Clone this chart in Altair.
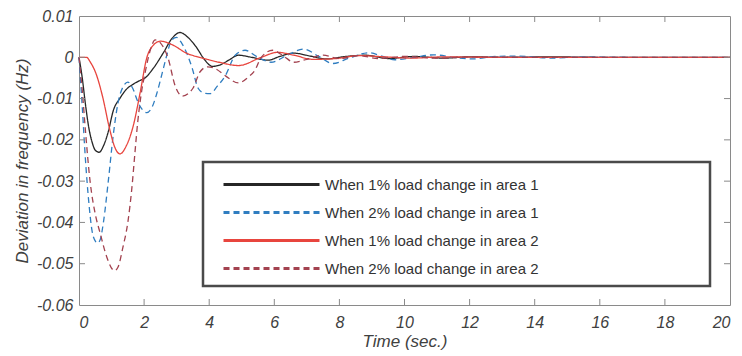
import altair as alt
import pandas as pd

SERIES = [
    "When 1% load change in area 1",
    "When 2% load change in area 1",
    "When 1% load change in area 2",
    "When 2% load change in area 2",
]
COLORS = ["#262626", "#2f7dc0", "#e8453e", "#a3424f"]
DASHES = [[1, 0], [6, 4], [1, 0], [6, 4]]

T_BLACK = [0, 0.1, 0.2, 0.3, 0.4, 0.5, 0.62, 0.75, 0.9, 1.05, 1.26, 1.45, 1.67, 1.85, 2.03, 2.28, 2.6,
           2.85, 3.1, 3.35, 3.6, 3.85, 4.1, 4.35, 4.6, 4.9, 5.3, 5.8, 6.2, 6.6, 7.1, 7.6, 8.2, 8.8,
           9.5, 10.3, 11.2, 12.0, 13.0, 14.5, 16, 18, 20]
Y_BLACK = [0, -0.005, -0.0115, -0.017, -0.0205, -0.0225, -0.023, -0.0215, -0.018, -0.013, -0.0099,
           -0.0078, -0.0065, -0.0057, -0.005, -0.0027, 0.0012, 0.0045, 0.006, 0.0048, 0.0025,
           -0.0005, -0.0022, -0.0018, -0.0007, 0.0005, 0.0, -0.0007, 0.0003, 0.001, 0.0003,
           -0.0004, 0.0002, 0.0005, -0.0003, 0.0002, -0.0002, 0.0001, 0.0, 0.0001, 0, 0, 0]

T_BLUE = [0, 0.1, 0.2, 0.3, 0.4, 0.5, 0.57, 0.65, 0.75, 0.9, 1.05, 1.2, 1.35, 1.5, 1.65, 1.82, 2.08,
          2.25, 2.4, 2.55, 2.68, 2.85, 3.0, 3.15, 3.3, 3.48, 3.66, 3.85, 4.03, 4.25, 4.5, 4.8, 5.1,
          5.5, 5.9, 6.4, 6.9, 7.35, 7.8, 8.3, 8.9, 9.3, 9.7, 10.3, 10.9, 11.5, 12.1, 12.8, 13.5,
          14.5, 15.5, 17, 20]
Y_BLUE = [0, -0.012, -0.025, -0.035, -0.042, -0.0445, -0.045, -0.0442, -0.040, -0.030, -0.019,
          -0.011, -0.0072, -0.006, -0.0075, -0.011, -0.0134, -0.012, -0.0085, -0.004, 0.0,
          0.0042, 0.0048, 0.0035, 0.0012, -0.0027, -0.0075, -0.0087, -0.0088, -0.007, -0.0044,
          0.0005, 0.0017, 0.0, -0.0012, 0.0005, 0.002, 0.0003, -0.0015, -0.0002, 0.0011, 0.0003,
          -0.0006, 0.0, 0.0006, 0.0, -0.0004, 0.0002, 0.0003, -0.0002, 0.0001, 0, 0]

T_RED = [0, 0.23, 0.35, 0.52, 0.73, 0.93, 1.1, 1.26, 1.45, 1.67, 1.88, 2.08, 2.28, 2.5, 2.9, 3.3,
         3.7, 4.3, 4.9, 5.6, 6.1, 6.6, 7.2, 7.9, 8.6, 9.4, 10.2, 11.2, 12.5, 14, 16, 20]
Y_RED = [0, 0, -0.0012, -0.0039, -0.0097, -0.017, -0.0218, -0.0234, -0.0215, -0.0165, -0.0085,
         -0.0002, 0.0029, 0.0039, 0.0029, 0.001, 0, -0.0012, -0.002, 0, 0.0012, 0.0005, -0.0005,
         -0.0003, 0.0004, 0.0001, -0.0002, 0.0001, 0, 0, 0, 0]

T_BROWN = [0, 0.1, 0.2, 0.34, 0.5, 0.65, 0.85, 1.09, 1.2, 1.35, 1.5, 1.62, 1.72, 1.8, 1.9, 2.05,
           2.2, 2.34, 2.5, 2.74, 2.95, 3.17, 3.5, 3.72, 3.95, 4.2, 4.5, 4.9, 5.2, 5.4, 5.6, 5.95,
           6.3, 6.6, 7.0, 7.5, 8.0, 8.6, 9.2, 10.0, 11.0, 12.0, 13.5, 20]
Y_BROWN = [0, -0.008, -0.018, -0.030, -0.038, -0.0426, -0.0483, -0.0517, -0.0508, -0.046, -0.040,
           -0.032, -0.023, -0.016, -0.0095, -0.003, 0.002, 0.0042, 0.0035, -0.0003, -0.0068,
           -0.0094, -0.0075, -0.0035, -0.0023, -0.0028, -0.0045, -0.0062, -0.0048, -0.0032, 0.0,
           0.0017, 0.0002, -0.0012, -0.0005, 0.0005, -0.0003, 0.0004, -0.0003, 0.0002, -0.0002,
           0.0001, 0, 0]

X_TICKS = [0, 2, 4, 6, 8, 10, 12, 14, 16, 18, 20]
Y_TICKS = [-0.06, -0.05, -0.04, -0.03, -0.02, -0.01, 0.0, 0.01]

rows = []
for name, ts, ys in zip(SERIES, [T_BLACK, T_BLUE, T_RED, T_BROWN], [Y_BLACK, Y_BLUE, Y_RED, Y_BROWN]):
    for t, y in zip(ts, ys):
        rows.append({"t": t, "y": y, "series": name})
df = pd.DataFrame(rows)

W, H = 651, 289
xs = alt.Scale(domain=[0, 20], nice=False, zero=False)
ys = alt.Scale(domain=[-0.06, 0.01], nice=False, zero=False)

lines = alt.Chart(df).mark_line(strokeWidth=1.3, interpolate="monotone").encode(
    x=alt.X("t:Q", scale=xs, title="Time (sec.)",
            axis=alt.Axis(values=X_TICKS, grid=False, domain=False, ticks=False, tickSize=0,
                          labelPadding=9, titlePadding=3)),
    y=alt.Y("y:Q", scale=ys, title="Deviation in frequency (Hz)",
            axis=alt.Axis(values=Y_TICKS, grid=False, domain=False, ticks=False, tickSize=0,
                          labelPadding=6, titlePadding=5,
                          labelExpr="datum.value == 0 ? '0' : replace(format(datum.value, '.2f'), '\u2212', '-')")),
    color=alt.Color("series:N", sort=SERIES, scale=alt.Scale(domain=SERIES, range=COLORS),
                    legend=alt.Legend(orient="none", legendX=179, legendY=155, title=None,
                                      symbolType="M-4,0H4", symbolSize=576, symbolStrokeWidth=3,
                                      labelFont="Liberation Sans", labelFontSize=15,
                                      labelColor="#333333", labelOffset=40, rowPadding=6,
                                      padding=0, labelLimit=400)),
    strokeDash=alt.StrokeDash("series:N", sort=SERIES, scale=alt.Scale(domain=SERIES, range=DASHES),
                              legend=None),
    order="t:Q",
)

frame = alt.Chart(pd.DataFrame({"a": [0]})).mark_rect(
    fill="white", stroke="#4a4a4a", strokeWidth=2.5
).encode(x=alt.value(124), x2=alt.value(631), y=alt.value(146), y2=alt.value(270))

tick_color = "#8a8a8a"
xt = pd.DataFrame({"t": X_TICKS[1:-1]})
yt = pd.DataFrame({"y": Y_TICKS[1:-1]})
bottom_ticks = alt.Chart(xt).mark_rule(color=tick_color).encode(
    x=alt.X("t:Q", scale=xs), y=alt.value(H), y2=alt.value(H - 6))
top_ticks = alt.Chart(xt).mark_rule(color=tick_color).encode(
    x=alt.X("t:Q", scale=xs), y=alt.value(0), y2=alt.value(6))
left_ticks = alt.Chart(yt).mark_rule(color=tick_color).encode(
    y=alt.Y("y:Q", scale=ys), x=alt.value(0), x2=alt.value(6))
right_ticks = alt.Chart(yt).mark_rule(color=tick_color).encode(
    y=alt.Y("y:Q", scale=ys), x=alt.value(W), x2=alt.value(W - 6))

chart = alt.layer(lines, frame, bottom_ticks, top_ticks, left_ticks, right_ticks).properties(
    width=W, height=H,
    background="white",
    padding={"left": 71, "top": 8, "right": 4, "bottom": 48},
    autosize=alt.AutoSizeParams(type="none"),
).configure_view(stroke="#8a8a8a", strokeWidth=1).configure_axis(
    labelFont="Liberation Sans", labelFontStyle="italic", labelFontSize=16, labelColor="#404040",
    titleFont="Liberation Sans", titleFontStyle="italic", titleFontWeight="normal",
    titleFontSize=17, titleColor="#404040",
)

chart.save("out.html", embed_options={"renderer": "svg", "actions": False})
